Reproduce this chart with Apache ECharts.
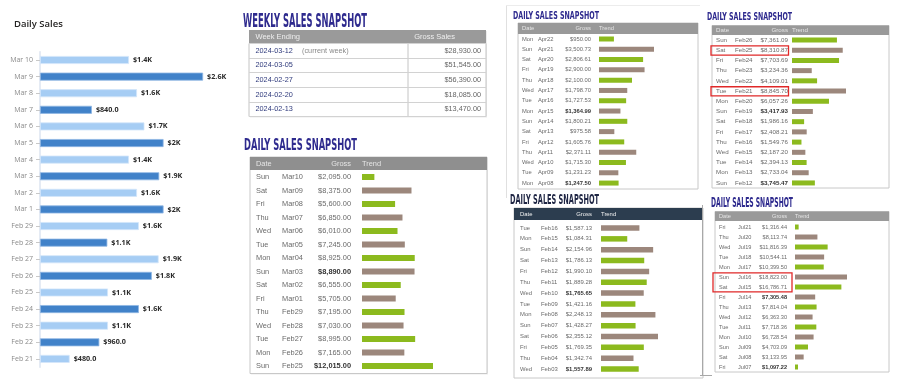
<!DOCTYPE html>
<html><head><meta charset="utf-8">
<script src="https://cdn.jsdelivr.net/npm/echarts@6/dist/echarts.min.js"></script>
<style>html,body{margin:0;padding:0;background:#fff}#c{width:900px;height:383px}</style>
</head><body><div id="c"></div><script>
// ---------------- DATA ----------------
const dailyCats = ['Mar 10','Mar 9','Mar 8','Mar 7','Mar 6','Mar 5','Mar 4','Mar 3','Mar 2','Mar 1','Feb 29','Feb 28','Feb 27','Feb 26','Feb 25','Feb 24','Feb 23','Feb 22','Feb 21'];
const dailyValues = [1440,2640,1570,840,1690,2000,1440,1930,1570,2000,1600,1090,1920,1810,1100,1600,1100,960,480];

const weeklyDates = ['2024-03-12','2024-03-05','2024-02-27','2024-02-20','2024-02-13'];
const weeklyNotes = ['(current week)','','','',''];
const weeklyGross = [28930,51545,56390,18085,13470];

const marDays = ['Sun','Sat','Fri','Thu','Wed','Tue','Mon','Sun','Sat','Fri','Thu','Wed','Tue','Mon','Sun'];
const marDates = ['Mar10','Mar09','Mar08','Mar07','Mar06','Mar05','Mar04','Mar03','Mar02','Mar01','Feb29','Feb28','Feb27','Feb26','Feb25'];
const marGross = [2095,8375,5600,6850,6010,7245,8925,8890,6555,5705,7195,7030,8995,7165,12015];
const marBold = ['Mar03','Feb25'];

const aprDays = ['Mon','Sun','Sat','Fri','Thu','Wed','Tue','Mon','Sun','Sat','Fri','Thu','Wed','Tue','Mon'];
const aprDates = ['Apr22','Apr21','Apr20','Apr19','Apr18','Apr17','Apr16','Apr15','Apr14','Apr13','Apr12','Apr11','Apr10','Apr09','Apr08'];
const aprGross = [950.00,3500.73,2806.61,2900.00,2100.00,1798.70,1727.53,1364.99,1800.21,975.58,1605.76,2371.11,1715.30,1231.23,1247.50];
const aprBold = ['Apr15','Apr08'];

const febDays = ['Sun','Sat','Fri','Thu','Wed','Tue','Mon','Sun','Sat','Fri','Thu','Wed','Tue','Mon','Sun'];
const febDates = ['Feb26','Feb25','Feb24','Feb23','Feb22','Feb21','Feb20','Feb19','Feb18','Feb17','Feb16','Feb15','Feb14','Feb13','Feb12'];
const febGross = [7361.09,8310.87,7703.69,3234.36,4109.01,8845.70,6057.26,3417.93,1986.16,2408.21,1549.76,2187.20,2394.13,2733.04,3745.47];
const febBold = ['Feb19','Feb12'];
const febHighlight = ['Feb25','Feb21'];

const earlyDays = ['Tue','Mon','Sun','Sat','Fri','Thu','Wed','Tue','Mon','Sun','Sat','Fri','Thu','Wed'];
const earlyDates = ['Feb16','Feb15','Feb14','Feb13','Feb12','Feb11','Feb10','Feb09','Feb08','Feb07','Feb06','Feb05','Feb04','Feb03'];
const earlyGross = [1587.13,1084.31,2154.96,1786.13,1990.10,1889.28,1765.65,1421.16,2248.13,1428.27,2355.12,1769.35,1342.74,1557.89];
const earlyBold = ['Feb10','Feb03'];

const julDays = ['Fri','Thu','Wed','Tue','Mon','Sun','Sat','Fri','Thu','Wed','Tue','Mon','Sun','Sat','Fri'];
const julDates = ['Jul21','Jul20','Jul19','Jul18','Jul17','Jul16','Jul15','Jul14','Jul13','Jul12','Jul11','Jul10','Jul09','Jul08','Jul07'];
const julGross = [1316.44,8113.74,11816.39,10544.11,10399.50,18823.00,16786.71,7305.48,7814.04,6363.30,7718.36,6728.54,4703.09,3133.95,1097.22];
const julBold = ['Jul14','Jul07'];
const julHighlight = [['Jul16','Jul15']];

// ---------------- HELPERS ----------------
const GREEN = '#8cba1e', BROWN = '#9c877c';
const TABLE_FONT = '"Liberation Sans", Arial, sans-serif';
function money(v){ return '$' + v.toLocaleString('en-US',{minimumFractionDigits:2, maximumFractionDigits:2}); }
function fmtK(v){ if (v >= 1000){ let s=(v/1000).toFixed(1); if (s.endsWith('.0')) s=s.slice(0,-2); return '$'+s+'K'; } return '$'+v.toFixed(1); }
const mctx = document.createElement('canvas').getContext('2d');
const TITLE_FAM = '"DejaVu Sans Condensed", "DejaVu Sans", sans-serif';
function titleText(t, T){
  const fs = T.cap / 0.73;
  mctx.font = 'bold ' + fs + 'px ' + TITLE_FAM;
  const mw = mctx.measureText(t).width;
  return {type:'text', x:T.x, y:T.y, scaleX:T.w/mw, silent:true,
    style:{text:t, x:0, y:0, fill:T.color||'#2e2a8e', fontSize:fs, fontWeight:'bold', fontFamily:TITLE_FAM, verticalAlign:'middle', align:'left'}};
}
function txt(t, x, y, fs, color, align, weight){
  return {type:'text', x:x, y:y, silent:true, style:{text:t, x:0, y:0, fill:color, fontSize:fs, fontFamily:TABLE_FONT, fontWeight:weight||'normal', align:align||'left', verticalAlign:'middle'}};
}
function line(x1,y1,x2,y2,color,w){ return {type:'line', silent:true, shape:{x1,y1,x2,y2}, style:{stroke:color, lineWidth:w||1}}; }
function rect(x,y,w,h,style){ return {type:'rect', silent:true, shape:{x,y,width:w,height:h}, style}; }

const grids=[], xAxes=[], yAxes=[], series=[], graphics=[];

// ---------------- LEFT: Daily Sales bar chart ----------------
grids.push({left:40, top:51.7, width:173, height:315.5, outerBoundsMode:'none'});
xAxes.push({gridIndex:0, type:'value', min:0, max:2800, show:false});
yAxes.push({gridIndex:0, type:'category', inverse:true, data:dailyCats,
  axisLine:{show:true, lineStyle:{color:'#dde4f0', width:1.5}},
  axisTick:{show:true, alignWithLabel:true, length:4, lineStyle:{color:'#c8c8c8'}},
  splitLine:{show:false},
  axisLabel:{interval:0, color:'#8a8a8a', fontSize:7, margin:7, fontFamily:'"Open Sans", sans-serif'}});
series.push({type:'bar', xAxisIndex:0, yAxisIndex:0, barWidth:8, silent:true,
  data: dailyValues.map((v,i)=>({value:v, itemStyle: i%2
    ? {color:'#4182c9', borderColor:'#8fb6e3', borderWidth:0.8}
    : {color:'#a6cdf4', borderColor:'#d3e6fa', borderWidth:0.8}})),
  label:{show:true, position:'right', distance:4, formatter:p=>fmtK(p.value), fontSize:7.2, fontWeight:'bold', color:'#2a2a2a', fontFamily:'"Open Sans", sans-serif'}});

// ---------------- WEEKLY table ----------------
(function(){
  const W = {x:249, right:486, hTop:30, hBot:43.5, bottom:116.5, colX:408, dateX:255.5, noteX:302, grossRight:481, headRight:455};
  graphics.push(titleText('WEEKLY SALES SNAPSHOT', {x:243, y:22, w:124, cap:14}));
  graphics.push(rect(W.x+1, W.hTop+1, W.right-W.x, W.bottom-W.hTop, {fill:'#ececec'}));
  graphics.push(rect(W.x, W.hBot, W.right-W.x, W.bottom-W.hBot, {fill:'#ffffff', stroke:'#c4c4c4', lineWidth:1}));
  graphics.push(rect(W.x, W.hTop, W.right-W.x, W.hBot-W.hTop, {fill:'#9a9a9a'}));
  graphics.push(txt('Week Ending', W.dateX, (W.hTop+W.hBot)/2, 7.5, '#eeeeee'));
  graphics.push(txt('Gross Sales', W.headRight, (W.hTop+W.hBot)/2, 7.5, '#eeeeee', 'right'));
  graphics.push(line(W.colX, W.hBot, W.colX, W.bottom, '#c4c4c4'));
  const gi = grids.length;
  grids.push({left:W.x, top:W.hBot, width:W.right-W.x, height:W.bottom-W.hBot, show:false, outerBoundsMode:'none'});
  xAxes.push({gridIndex:gi, type:'value', min:0, max:1, show:false});
  const base = {fontSize:7.3, fontFamily:TABLE_FONT};
  yAxes.push({gridIndex:gi, type:'category', inverse:true, data:weeklyDates, z:10,
    axisLine:{show:false}, axisTick:{show:false},
    splitLine:{show:true, lineStyle:{color:'#d2d2d2', width:1}},
    axisLabel:{inside:true, margin:W.dateX-W.x, interval:0,
      formatter:(v,i)=>`{a|${v}}{c|${weeklyNotes[i]||' '}}{b|${money(weeklyGross[i])}}`,
      rich:{a:{...base, color:'#2f3a7c', width:W.noteX-W.dateX, align:'left'},
            c:{...base, color:'#8a8a8a', width:100, align:'left'},
            b:{...base, color:'#666', width:W.grossRight-W.noteX-100, align:'right'}}}});
})();

// ---------------- DAILY SNAPSHOT tables ----------------
function addTable(S, L){
  const n = S.days.length;
  const top = L.firstRow - L.rowH/2;
  const w = L.right - L.barX - 4;
  graphics.push(titleText('DAILY SALES SNAPSHOT', L.title));
  if (L.shadow) graphics.push(rect(L.x+1, L.hTop+1, L.right-L.x, L.bottom-L.hTop, {fill:'#ececec'}));
  graphics.push(rect(L.x, L.hTop, L.right-L.x, L.bottom-L.hTop, {fill:'#fff', stroke:L.frame||'#c8c8c8', lineWidth:1}));
  graphics.push(rect(L.x, L.hTop, L.right-L.x, L.hBot-L.hTop, {fill:L.hColor||'#8f8f8f'}));
  const hy = (L.hTop+L.hBot)/2, hc = L.hText||'#e6e6e6';
  graphics.push(txt('Date', L.dayX, hy, L.fs, hc));
  graphics.push(txt('Gross', L.grossRight, hy, L.fs, hc, 'right'));
  graphics.push(txt('Trend', L.barX, hy, L.fs, hc));
  const gi = grids.length;
  grids.push({left:L.barX, top:top, width:w, height:L.rowH*n, outerBoundsMode:'none'});
  xAxes.push({gridIndex:gi, type:'value', min:0, max:w/L.pxPerUnit, show:false});
  const span = L.grossRight - L.dateX, gW = span*0.66, mW = span-gW, dW = L.dateX - L.dayX;
  const base = {fontSize:L.fs, fontFamily:TABLE_FONT, color:'#6a6a6a'};
  yAxes.push({gridIndex:gi, type:'category', inverse:true, data:S.dates, z:10,
    axisLine:{show:false}, axisTick:{show:false}, splitLine:{show:false},
    axisLabel:{interval:0, margin:L.barX-L.grossRight,
      formatter:(v,i)=>`{d|${S.days[i]}}{m|${v}}{${S.bold.includes(v)?'gb':'g'}|${money(S.gross[i])}}`,
      rich:{d:{...base, width:dW, align:'left'}, m:{...base, width:mW, align:'left'},
            g:{...base, width:gW, align:'right'}, gb:{...base, width:gW, align:'right', fontWeight:'bold', color:'#333'}}}});
  series.push({type:'bar', xAxisIndex:gi, yAxisIndex:gi, barWidth:L.barH, silent:true,
    data:S.gross.map((v,i)=>({value:v, itemStyle:{color: ((i%2===0) === (S.first==='green')) ? GREEN : BROWN}}))});
  (S.highlight||[]).forEach(h=>{
    const ids = Array.isArray(h) ? h : [h];
    const i0 = S.dates.indexOf(ids[0]), i1 = S.dates.indexOf(ids[ids.length-1]);
    const y0 = top + i0*L.rowH + L.rowH*0.08, y1 = top + (i1+1)*L.rowH - L.rowH*0.02;
    graphics.push(rect(L.boxX0, y0, L.boxX1-L.boxX0, y1-y0, {fill:'none', stroke:'#e02828', lineWidth:1.3}));
  });
}

addTable({days:marDays, dates:marDates, gross:marGross, bold:marBold, first:'green'},
  {x:250, right:487, hTop:157, hBot:170, firstRow:177, rowH:13.5, bottom:373.5, dayX:256, dateX:282, grossRight:351, barX:362,
   pxPerUnit:71/12015, barH:6, fs:7.4, shadow:true, title:{x:244, y:146.5, w:113, cap:11}});
addTable({days:aprDays, dates:aprDates, gross:aprGross, bold:aprBold, first:'green'},
  {x:518, right:698, hTop:23, hBot:34, firstRow:39, rowH:10.29, bottom:189, dayX:522, dateX:538, grossRight:591, barX:599,
   pxPerUnit:55/3500.73, barH:5, fs:5.8, hColor:'#999', title:{x:513, y:15.8, w:86, cap:8.2}});
addTable({days:febDays, dates:febDates, gross:febGross, bold:febBold, first:'green', highlight:febHighlight},
  {x:712, right:889, hTop:25.5, hBot:35, firstRow:40, rowH:10.21, bottom:188, dayX:716, dateX:735, grossRight:788, barX:792,
   pxPerUnit:54/8845.7, barH:5, fs:6.2, hColor:'#999', boxX0:711, boxX1:788.5, title:{x:707, y:16.8, w:85, cap:8.3}});
addTable({days:earlyDays, dates:earlyDates, gross:earlyGross, bold:earlyBold, first:'brown'},
  {x:514, right:703, hTop:208, hBot:220, firstRow:228, rowH:10.85, bottom:378, dayX:520, dateX:541, grossRight:592, barX:601,
   pxPerUnit:57/2355.12, barH:5.5, fs:5.9, hColor:'#2c3d4f', hText:'#f2f2f2', title:{x:510, y:200.7, w:89, cap:10, color:'#1f2644'}});
addTable({days:julDays, dates:julDates, gross:julGross, bold:julBold, first:'green', highlight:julHighlight},
  {x:715, right:889, hTop:211.5, hBot:221, firstRow:227, rowH:10, bottom:372, dayX:719, dateX:738, grossRight:787, barX:795,
   pxPerUnit:52/18823, barH:5, fs:5.6, hColor:'#9a9a9a', boxX0:713, boxX1:792, title:{x:711, y:203.3, w:82, cap:10}});

// screenshot frame lines
graphics.push(line(506.5, 5.5, 700, 5.5, '#ececec'));
graphics.push(line(506.5, 5.5, 506.5, 198, '#e0e0e0'));
graphics.push(line(702.5, 205, 702.5, 375, '#a8a8a8'));
graphics.push(line(700, 375.5, 712, 375.5, '#a8a8a8'));

const chart = echarts.init(document.getElementById('c'), null, {renderer:'canvas'});
chart.setOption({
  animation:false,
  backgroundColor:'#fff',
  title:{text:'Daily Sales', left:9, top:14, textStyle:{fontSize:9.5, fontWeight:600, color:'#252423', fontFamily:'"Open Sans", sans-serif'}},
  grid:grids, xAxis:xAxes, yAxis:yAxes, series:series,
  graphic:{elements:graphics}
});
</script></body></html>
